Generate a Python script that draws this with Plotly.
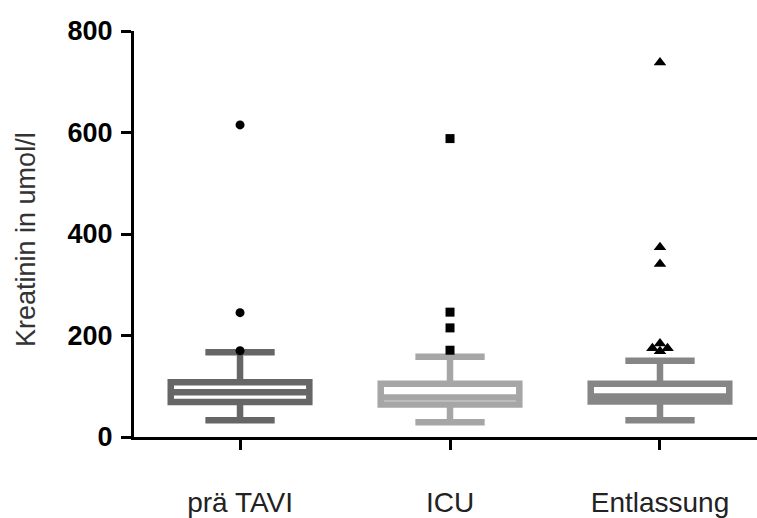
import plotly.graph_objects as go

categories = ["prä TAVI", "ICU", "Entlassung"]
q1 = [69, 64, 70]
median = [88, 78, 80]
q3 = [108, 105, 105]
lower_whisker = [33, 29, 33]
upper_whisker = [167, 158, 150]

outliers_pre = [615, 245, 170]
outliers_icu = [588, 246, 215, 171]
outliers_ent = [738, 374, 341, 184, 175, 175, 169]
# horizontal spreading of overlapping outlier symbols (category units)
spread_ent = [0, 0, 0, 0, -0.036, 0.036, 0]

y_title = "Kreatinin in umol/l"

box_colors = ["#666666", "#a6a6a6", "#868686"]
outlier_symbols = ["circle", "square", "triangle-up"]
outlier_sizes = [9, 9, 11]

font_family = "Liberation Sans, Arial, sans-serif"

fig = go.Figure()

for i, cat in enumerate(categories):
    fig.add_trace(go.Box(
        x=[i],
        q1=[q1[i]], median=[median[i]], q3=[q3[i]],
        lowerfence=[lower_whisker[i]], upperfence=[upper_whisker[i]],
        width=0.66, whiskerwidth=0.5,
        line=dict(color=box_colors[i], width=6.5),
        fillcolor="rgba(255,255,255,0)",
        boxpoints=False, showlegend=False, name=cat,
    ))

outlier_sets = [outliers_pre, outliers_icu, outliers_ent]
spreads = [[0] * len(outliers_pre), [0] * len(outliers_icu), spread_ent]
for i, vals in enumerate(outlier_sets):
    fig.add_trace(go.Scatter(
        x=[i + d for d in spreads[i]], y=vals, mode="markers",
        marker=dict(symbol=outlier_symbols[i], size=outlier_sizes[i], color="black",
                    line=dict(width=0)),
        showlegend=False, hoverinfo="y",
    ))

fig.add_annotation(
    text=y_title, textangle=-90,
    xref="paper", yref="paper", x=-0.1734, y=0.5, yshift=-5,
    xanchor="center", yanchor="middle", showarrow=False,
    font=dict(size=27, color="#333333", family=font_family),
)

fig.update_layout(
    width=757, height=518,
    margin=dict(l=134, r=0, t=31, b=79),
    plot_bgcolor="white", paper_bgcolor="white",
    font=dict(family=font_family, color="black"),
    xaxis=dict(
        range=[-0.505, 2.462],
        tickmode="array", tickvals=list(range(len(categories))), ticktext=categories,
        showgrid=False, zeroline=False,
        showline=True, linecolor="black", linewidth=3,
        ticks="outside", ticklen=10, tickwidth=3, tickcolor="black",
        tickfont=dict(size=28, color="#222222"),
        ticklabelstandoff=28,
    ),
    yaxis=dict(
        range=[0, 800],
        tickvals=[0, 200, 400, 600, 800],
        showgrid=False, zeroline=False,
        showline=True, linecolor="black", linewidth=3,
        ticks="outside", ticklen=10, tickwidth=3, tickcolor="black",
        tickfont=dict(size=27, color="black", weight="bold"),
        ticklabelstandoff=3,
    ),
)

fig.write_html("out.html")
